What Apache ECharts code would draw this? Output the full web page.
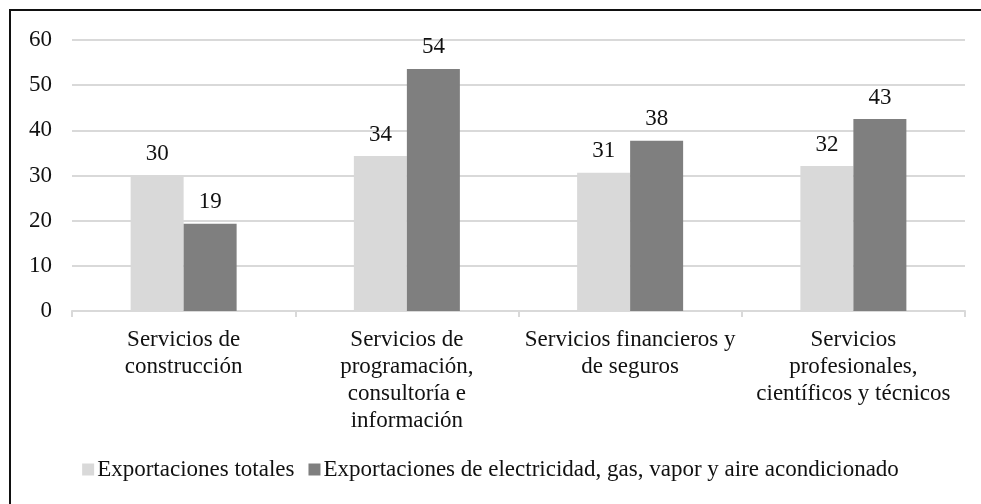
<!DOCTYPE html>
<html>
<head>
<meta charset="utf-8">
<script src="https://cdn.jsdelivr.net/npm/echarts@6/dist/echarts.min.js"></script>
<style>
html, body { margin: 0; padding: 0; background: #fff; }
#frame {
    position: absolute; left: 9px; top: 9px; width: 990px; height: 510px;
    border-left: 2px solid #111; border-top: 2px solid #111;
}
#chart { position: absolute; left: 0; top: 0; width: 981px; height: 504px; }
</style>
</head>
<body>
<div id="frame"></div>
<div id="chart"></div>
<script>
// categorías (saltos de línea como en el original)
const categories = [
    'Servicios de\nconstrucción',
    'Servicios de\nprogramación,\nconsultoría e\ninformación',
    'Servicios financieros y\nde seguros',
    'Servicios\nprofesionales,\ncientíficos y técnicos'
];
const totales = [30.1, 34.3, 30.6, 32.1];
const electricidad = [19.3, 53.6, 37.7, 42.5];
const seriesNames = ['Exportaciones totales', 'Exportaciones de electricidad, gas, vapor y aire acondicionado'];

const font = '"Liberation Serif", "Times New Roman", serif';
const chart = echarts.init(document.getElementById('chart'));

const labelCfg = {
    show: true,
    position: 'top',
    distance: 10,
    color: '#111',
    fontFamily: font,
    fontSize: 23,
    formatter: p => Math.round(p.value)
};

const option = {
    animation: false,
    textStyle: { fontFamily: font },
    grid: { left: 72, right: 16, top: 40, bottom: 193 },
    legend: {
        bottom: 18,
        left: 'center',
        itemWidth: 12,
        itemHeight: 12,
        itemGap: 14,
        icon: 'rect',
        textStyle: { fontFamily: font, fontSize: 23, color: '#111', padding: [0, 0, 0, -2] },
        data: seriesNames
    },
    xAxis: {
        type: 'category',
        data: categories,
        axisLine: { lineStyle: { color: '#d9d9d9', width: 2 } },
        axisTick: { show: true, length: 6, lineStyle: { color: '#d9d9d9', width: 2 } },
        axisLabel: {
            interval: 0,
            margin: 15,
            fontFamily: font,
            fontSize: 23,
            lineHeight: 27,
            color: '#111'
        }
    },
    yAxis: {
        type: 'value',
        min: 0,
        max: 60,
        interval: 10,
        axisLine: { show: false },
        axisTick: { show: false },
        splitLine: { lineStyle: { color: '#d9d9d9', width: 2 } },
        axisLabel: { margin: 20, fontFamily: font, fontSize: 23, color: '#111' }
    },
    series: [
        {
            name: seriesNames[0],
            type: 'bar',
            data: totales,
            barWidth: 53,
            barGap: '0%',
            itemStyle: { color: '#d9d9d9' },
            label: labelCfg
        },
        {
            name: seriesNames[1],
            type: 'bar',
            data: electricidad,
            barWidth: 53,
            itemStyle: { color: '#7f7f7f' },
            label: labelCfg
        }
    ]
};
chart.setOption(option);
</script>
</body>
</html>
